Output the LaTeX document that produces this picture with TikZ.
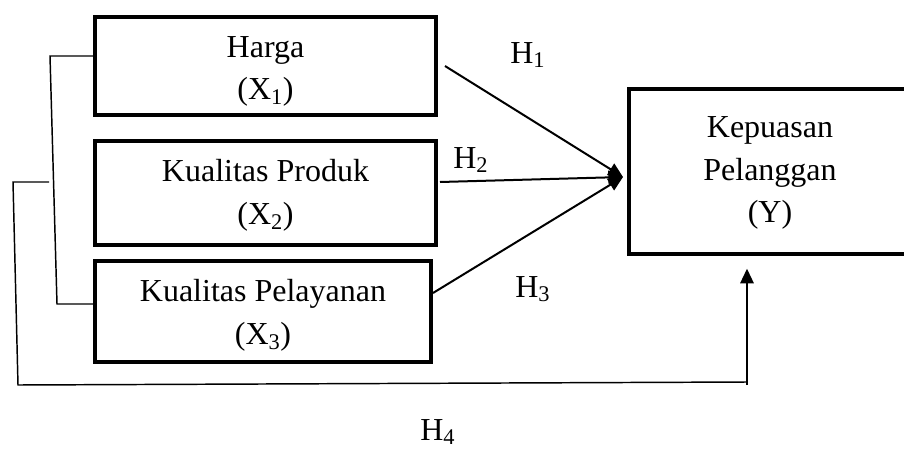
\documentclass[tikz,border=0pt]{standalone}
\usepackage{fontspec}
\setmainfont{Liberation Serif}
\usetikzlibrary{arrows.meta,calc}
\begin{document}
\begin{tikzpicture}[x=0.75pt,y=-0.75pt,
  varbox/.style={draw=black,line width=3pt,inner sep=0pt,outer sep=0pt},
  vartext/.style={inner sep=0pt,align=center,font=\fontsize{24}{32}\selectfont},
  arr/.style={line width=1.5pt,-{Triangle[length=11pt,width=10pt]}},
  thinline/.style={line width=1.1pt},
  lbl/.style={inner sep=0pt,anchor=base west,font=\fontsize{24}{32}\selectfont}]
\clip (0,0) rectangle (904,450);
\useasboundingbox (0,0) rectangle (904,450);
\node[varbox,minimum width=255.75pt,minimum height=73.5pt] (x1) at (265.5,66) {};
\node[varbox,minimum width=255.75pt,minimum height=78pt] (x2) at (265.5,193) {};
\node[varbox,minimum width=252pt,minimum height=75.75pt] (x3) at (263,311.5) {};
\node[varbox,minimum width=214.5pt,minimum height=123.75pt] (y) at (772,171.5) {};
\node[vartext] (x1t) at (265.5,71.5) {Harga\\(X\textsubscript{1})};
\node[vartext] (x2t) at (265.5,195) {Kualitas Produk\\(X\textsubscript{2})};
\node[vartext] (x3t) at (263,315.5) {Kualitas Pelayanan\\(X\textsubscript{3})};
\node[vartext] (yt) at (770,173) {Kepuasan\\Pelanggan\\(Y)};
\coordinate (tip) at (623,177);
\draw[arr] ($(x1.east)+(9,0)$) -- (tip);
\draw[arr] ($(x2.east)+(4,-11)$) -- (tip);
\draw[arr] ($(x3.east)+(2,-18.5)$) -- (tip);
\node[lbl] (h1) at (510,63) {H\textsubscript{1}};
\node[lbl] (h2) at (453,168) {H\textsubscript{2}};
\node[lbl] (h3) at (515,297) {H\textsubscript{3}};
\node[lbl] (h4) at (420,440) {H\textsubscript{4}};
\coordinate (b1) at (50,56);
\coordinate (b2) at (57,304);
\draw[thinline] ($(x1.west)+(0,-10)$) -- (b1) -- (b2) -- ($(x3.west)+(0,-7.5)$);
\coordinate (o1) at (49,182);
\coordinate (o2) at (13,182);
\coordinate (o3) at (18,385);
\coordinate (o4) at (747,382);
\draw[thinline] (o1) -- (o2) -- (o3) -- (o4);
\draw[arr,shorten >=11pt] ($(o4)+(0,3)$) -- (y.south -| o4);
\end{tikzpicture}
\end{document}
